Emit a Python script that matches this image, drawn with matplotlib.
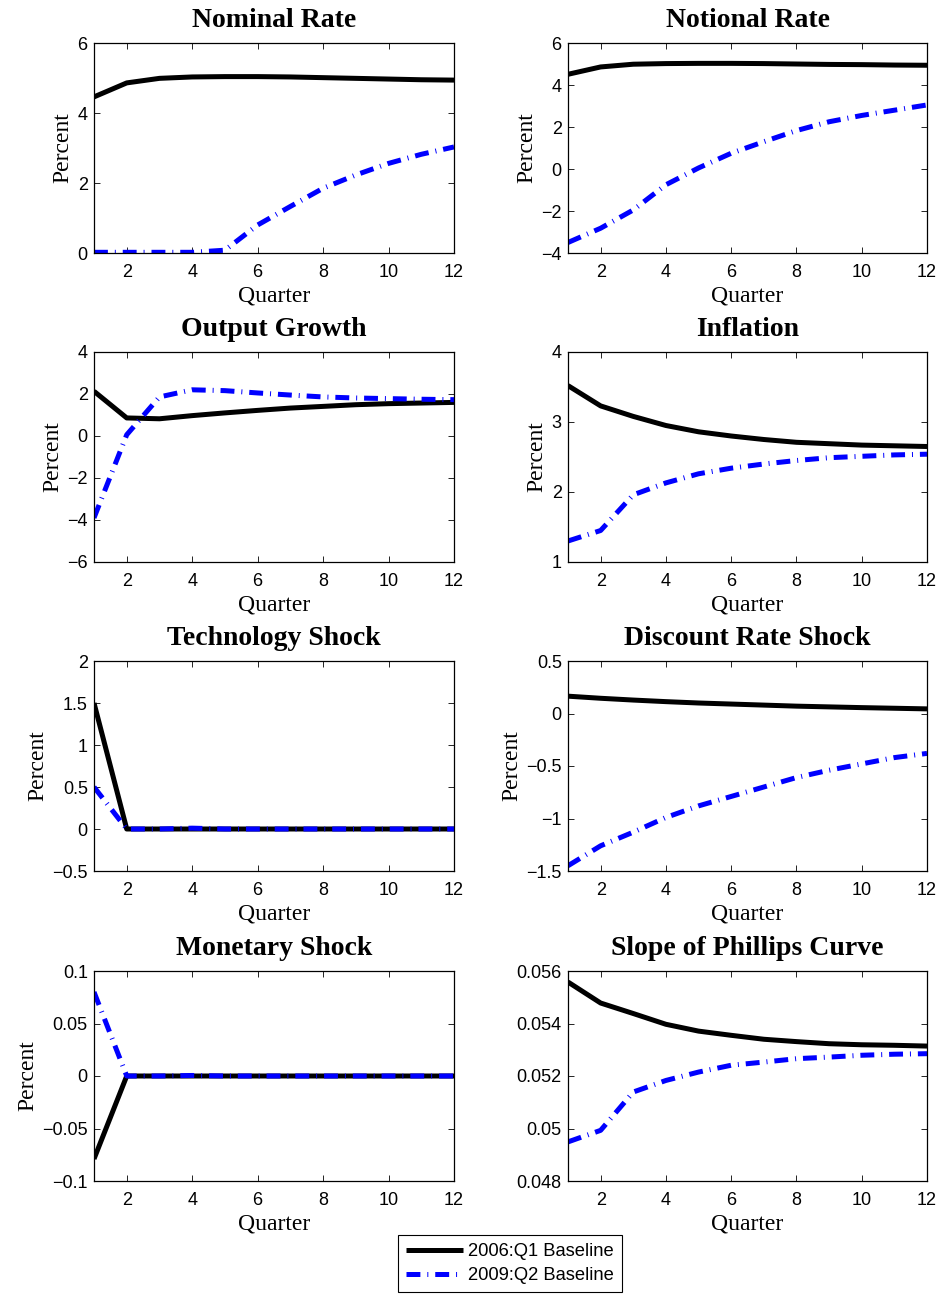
import matplotlib
matplotlib.use("Agg")
import matplotlib.pyplot as plt
import numpy as np
from matplotlib.ticker import FuncFormatter

plt.rcParams['lines.scale_dashes'] = False

quarters = np.arange(1, 13)

# --- values (2006:Q1 baseline = black, 2009:Q2 = blue)
nominal_2006 = [4.46, 4.86, 4.99, 5.03, 5.04, 5.04, 5.03, 5.01, 4.99, 4.97, 4.95, 4.94]
nominal_2009 = [0.02, 0.02, 0.02, 0.02, 0.08, 0.80, 1.33, 1.85, 2.23, 2.56, 2.82, 3.03]

notional_2006 = [4.51, 4.86, 4.99, 5.02, 5.03, 5.03, 5.02, 5.00, 4.98, 4.97, 4.95, 4.94]
notional_2009 = [-3.50, -2.82, -1.95, -0.75, 0.05, 0.75, 1.30, 1.83, 2.25, 2.55, 2.80, 3.05]

output_2006 = [2.13, 0.86, 0.82, 0.97, 1.10, 1.22, 1.33, 1.41, 1.49, 1.54, 1.57, 1.60]
output_2009 = [-3.90, 0.06, 1.86, 2.20, 2.16, 2.05, 1.95, 1.86, 1.81, 1.78, 1.75, 1.73]

inflation_2006 = [3.52, 3.23, 3.08, 2.95, 2.86, 2.80, 2.75, 2.71, 2.69, 2.67, 2.66, 2.65]
inflation_2009 = [1.30, 1.45, 1.96, 2.13, 2.26, 2.34, 2.40, 2.45, 2.49, 2.51, 2.53, 2.54]

tech_2006 = [1.50, 0, 0, 0, 0, 0, 0, 0, 0, 0, 0, 0]
tech_2009 = [0.50, 0, 0, 0.01, 0, 0, 0, 0, 0, 0, 0, 0]

discount_2006 = [0.165, 0.145, 0.128, 0.113, 0.100, 0.090, 0.080, 0.070, 0.063, 0.056, 0.050, 0.044]
discount_2009 = [-1.45, -1.26, -1.13, -0.99, -0.88, -0.79, -0.70, -0.61, -0.54, -0.48, -0.42, -0.38]

monetary_2006 = [-0.079, 0, 0, 0, 0, 0, 0, 0, 0, 0, 0, 0]
monetary_2009 = [0.080, 0, 0, 0.0005, 0, 0, 0, 0, 0, 0, 0, 0]

slope_2006 = [0.05558, 0.05478, 0.05438, 0.05397, 0.05371, 0.05355, 0.05340, 0.05331, 0.05323, 0.05319, 0.05317, 0.05314]
slope_2009 = [0.04949, 0.04993, 0.05139, 0.05183, 0.05215, 0.05241, 0.05253, 0.05266, 0.05272, 0.05279, 0.05283, 0.05285]

titles = ["Nominal Rate", "Notional Rate", "Output Growth", "Inflation",
          "Technology Shock", "Discount Rate Shock", "Monetary Shock",
          "Slope of Phillips Curve"]
series = [(nominal_2006, nominal_2009), (notional_2006, notional_2009),
          (output_2006, output_2009), (inflation_2006, inflation_2009),
          (tech_2006, tech_2009), (discount_2006, discount_2009),
          (monetary_2006, monetary_2009), (slope_2006, slope_2009)]
yticks = [[0, 2, 4, 6], [-4, -2, 0, 2, 4, 6], [-6, -4, -2, 0, 2, 4], [1, 2, 3, 4],
          [-0.5, 0, 0.5, 1, 1.5, 2], [-1.5, -1, -0.5, 0, 0.5],
          [-0.1, -0.05, 0, 0.05, 0.1], [0.048, 0.05, 0.052, 0.054, 0.056]]
show_ylabel = [True, True, True, True, True, True, True, False]

W, H = 943, 1295
fig = plt.figure(figsize=(W / 100, H / 100), dpi=100)

col_left = [94, 568]
col_width = [360, 359]
row_top = [43, 352, 661, 971]
ax_h = 210

serif = "Liberation Serif"
sans = "Liberation Sans"

fmt = FuncFormatter(lambda v, p: ("%g" % v).replace("-", "\u2212"))

handles = None
for i in range(8):
    r, c = divmod(i, 2)
    ax = fig.add_axes([col_left[c] / W, 1 - (row_top[r] + ax_h) / H,
                       col_width[c] / W, ax_h / H])
    s06, s09 = series[i]
    l1, = ax.plot(quarters, s06, color="black", lw=3.6, solid_capstyle="butt",
                  label="2006:Q1 Baseline")
    l2, = ax.plot(quarters, s09, color="#0000ff", lw=3.6,
                  dashes=(10, 5, 0.7, 5), label="2009:Q2 Baseline")
    handles = [l1, l2]
    ax.set_xlim(1, 12)
    ax.set_xticks([2, 4, 6, 8, 10, 12])
    ax.set_yticks(yticks[i])
    ax.set_ylim(yticks[i][0], yticks[i][-1])
    ax.yaxis.set_major_formatter(fmt)
    ax.tick_params(direction="in", length=4, width=0.6, top=True, right=True,
                   labelsize=13)
    ax.tick_params(axis="x", pad=8)
    ax.tick_params(axis="y", pad=4.5)
    for lab in ax.get_xticklabels() + ax.get_yticklabels():
        lab.set_fontfamily(sans)
    for sp in ax.spines.values():
        sp.set_linewidth(0.9)
    ax.set_title(titles[i], fontfamily=serif, fontweight="bold", fontsize=20, pad=11.5)
    ax.set_xlabel("Quarter", fontfamily=serif, fontsize=17, labelpad=3.5)
    if show_ylabel[i]:
        ax.set_ylabel("Percent", fontfamily=serif, fontsize=17, labelpad=3)

leg = fig.legend(handles=handles, loc="lower center", bbox_to_anchor=(510 / W, -0.005),
                 prop={"family": sans, "size": 13.2}, handlelength=3.1,
                 handletextpad=0.3, borderpad=0.45, labelspacing=0.38,
                 fancybox=False, edgecolor="black", framealpha=1)
leg.get_frame().set_linewidth(0.8)

fig.savefig("out.png", dpi=100)
